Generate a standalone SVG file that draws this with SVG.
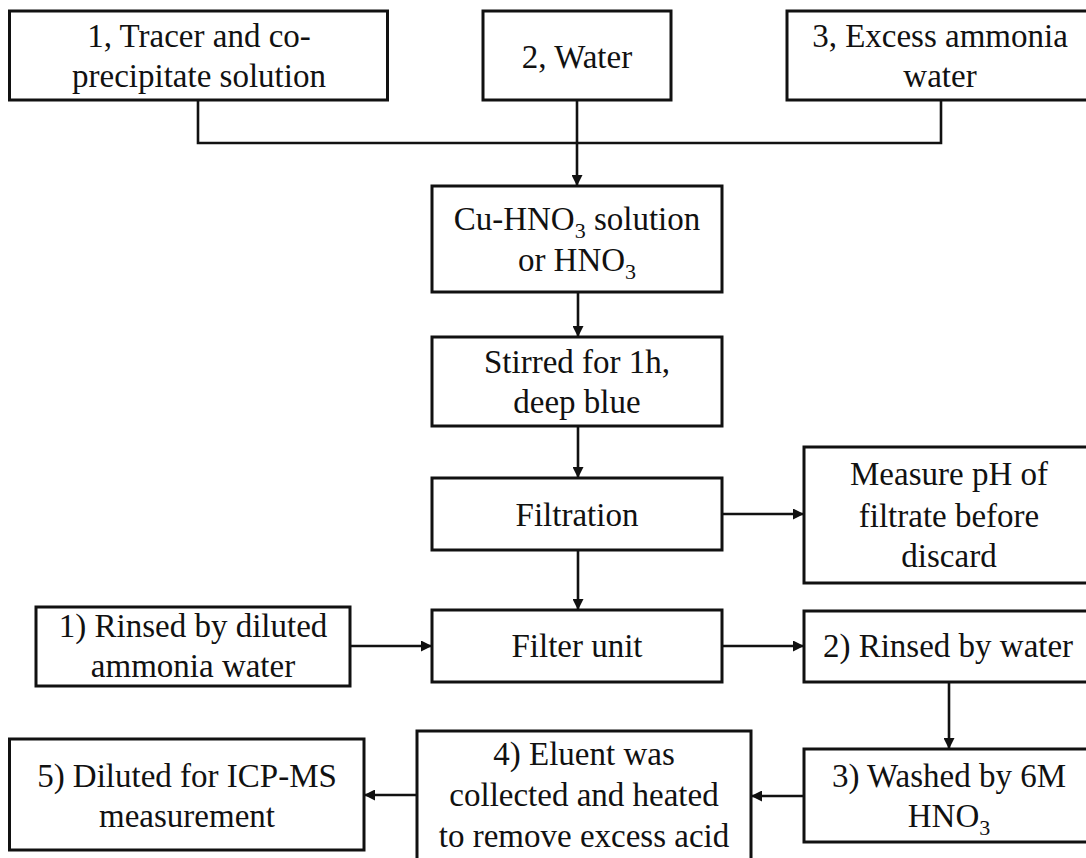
<svg xmlns="http://www.w3.org/2000/svg" width="1086" height="858" viewBox="0 0 1086 858">
<style>
.box{fill:#fff;stroke:#111;stroke-width:3}
.t{font-size:33px;fill:#111;text-anchor:middle}
.sub{font-size:22px}
.c{fill:none;stroke:#111;stroke-width:2.6}
</style>
<defs>
<marker id="ah" viewBox="0 0 10 10" refX="10" refY="5" markerWidth="12" markerHeight="11" markerUnits="userSpaceOnUse" orient="auto">
<path d="M0,0 L10,5 L0,10 z" fill="#111"/>
</marker>
</defs>
<rect width="1086" height="858" fill="#fff"/>
<g id="connectors">
<path class="c" d="M198,100 V143 H941 V100"/>
<path class="c" d="M577,100 V186" marker-end="url(#ah)"/>
<path class="c" d="M578,292 V337" marker-end="url(#ah)"/>
<path class="c" d="M578,426 V478" marker-end="url(#ah)"/>
<path class="c" d="M722,514 H804" marker-end="url(#ah)"/>
<path class="c" d="M578,550 V610" marker-end="url(#ah)"/>
<path class="c" d="M350,646 H432" marker-end="url(#ah)"/>
<path class="c" d="M722,646 H804" marker-end="url(#ah)"/>
<path class="c" d="M949,682 V749" marker-end="url(#ah)"/>
<path class="c" d="M804,796 H751" marker-end="url(#ah)"/>
<path class="c" d="M417,795 H364" marker-end="url(#ah)"/>
</g>
<g font-family="Liberation Serif, Times New Roman, serif">
<g id="n1">
<rect class="box" x="9.5" y="11" width="378" height="89"/>
<text class="t" x="199" y="47">1, Tracer and co-</text>
<text class="t" x="199" y="87">precipitate solution</text>
</g>
<g id="n2">
<rect class="box" x="483" y="11" width="188" height="89"/>
<text class="t" x="577" y="68">2, Water</text>
</g>
<g id="n3">
<rect class="box" x="787" y="11" width="305" height="89"/>
<text class="t" x="940" y="47">3, Excess ammonia</text>
<text class="t" x="940" y="87">water</text>
</g>
<g id="n4">
<rect class="box" x="432" y="186" width="290" height="106"/>
<text class="t" x="577" y="230">Cu-HNO<tspan class="sub" dy="8">3</tspan><tspan dy="-8"> solution</tspan></text>
<text class="t" x="577" y="271">or HNO<tspan class="sub" dy="8">3</tspan></text>
</g>
<g id="n5">
<rect class="box" x="432" y="337" width="290" height="89"/>
<text class="t" x="577" y="373">Stirred for 1h,</text>
<text class="t" x="577" y="413">deep blue</text>
</g>
<g id="n6">
<rect class="box" x="432" y="478" width="290" height="72"/>
<text class="t" x="577" y="526">Filtration</text>
</g>
<g id="n7">
<rect class="box" x="804" y="447" width="288" height="136"/>
<text class="t" x="949" y="485">Measure pH of</text>
<text class="t" x="949" y="527">filtrate before</text>
<text class="t" x="949" y="567">discard</text>
</g>
<g id="n8">
<rect class="box" x="36" y="607" width="314" height="79"/>
<text class="t" x="193" y="637">1) Rinsed by diluted</text>
<text class="t" x="193" y="677">ammonia water</text>
</g>
<g id="n9">
<rect class="box" x="432" y="610" width="290" height="72"/>
<text class="t" x="577" y="657">Filter unit</text>
</g>
<g id="n10">
<rect class="box" x="804" y="611" width="288" height="71"/>
<text class="t" x="948" y="657">2) Rinsed by water</text>
</g>
<g id="n11">
<rect class="box" x="804" y="749" width="288" height="93"/>
<text class="t" x="949" y="787">3) Washed by 6M</text>
<text class="t" x="949" y="827">HNO<tspan class="sub" dy="8">3</tspan></text>
</g>
<g id="n12">
<rect class="box" x="417" y="731" width="334" height="132"/>
<text class="t" x="584" y="765">4) Eluent was</text>
<text class="t" x="584" y="806">collected and heated</text>
<text class="t" x="584" y="847">to remove excess acid</text>
</g>
<g id="n13">
<rect class="box" x="9.5" y="739" width="354.5" height="111"/>
<text class="t" x="187" y="787">5) Diluted for ICP-MS</text>
<text class="t" x="187" y="827">measurement</text>
</g>
</g>
</svg>
